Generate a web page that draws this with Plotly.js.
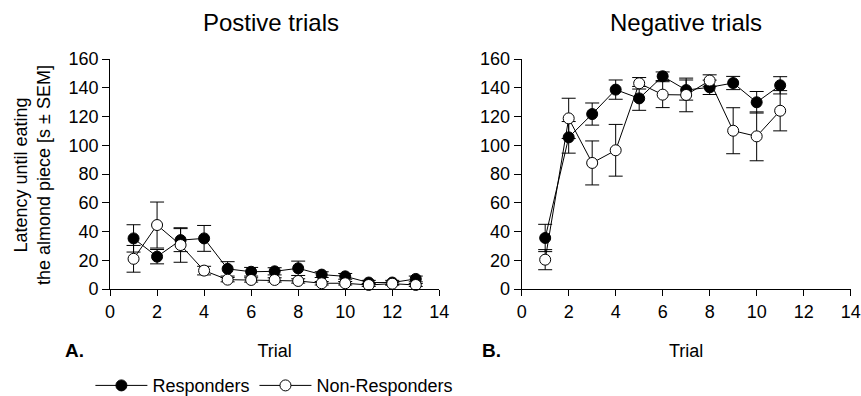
<!DOCTYPE html>
<html>
<head>
<meta charset="utf-8">
<script src="https://cdn.plot.ly/plotly-3.0.1.min.js"></script>
<style>
  html, body { margin: 0; padding: 0; background: #fff; }
  #chart { width: 861px; height: 396px; }
</style>
</head>
<body>
<div id="chart"></div>
<script>
// Latency (s) until eating the almond piece, mean ± SEM per trial

// Panel A: positive trials
const posTrials = [1, 2, 3, 4, 5, 6, 7, 8, 9, 10, 11, 12, 13];
const posRespMean = [35.2, 22.5, 34, 35.2, 14, 12, 12.3, 14.4, 10, 8.8, 4.5, 4.5, 7];
const posRespSem  = [9.5, 5, 8, 9, 5, 3, 2.5, 5, 2, 2, 1.5, 1.5, 2];
const posNonMean  = [21, 44.5, 30.6, 12.8, 6.5, 6.3, 6.3, 5.6, 4, 4, 2.8, 3.7, 2.8];
const posNonSem   = [9.3, 16, 12, 3, 1.5, 1.5, 1.5, 1.5, 1.2, 1.2, 1, 1, 1];

// Panel B: negative trials
const negTrials = [1, 2, 3, 4, 5, 6, 7, 8, 9, 10, 11];
const negRespMean = [35.5, 105.5, 121.7, 138.7, 132.6, 148, 138.4, 140.3, 143.3, 129.9, 141.7];
const negRespSem  = [9.5, 11, 7.7, 6.7, 8.3, 3, 7, 5, 4.6, 7.5, 6];
const negNonMean  = [20.4, 118.7, 87.7, 96.5, 143.1, 135.2, 135, 145, 110.1, 106.2, 124];
const negNonSem   = [7, 14, 15.3, 18, 4, 9, 11.7, 4, 16, 17, 14];

const groupNames = ['Responders', 'Non-Responders'];
const panelTitles = ['Postive trials', 'Negative trials'];
const panelLetters = ['A.', 'B.'];
const xTitle = 'Trial';
const yTitle = 'Latency until eating<br>the almond piece [s ± SEM]';

const FONT = 'Liberation Sans, Arial, sans-serif';

function series(x, y, sem, name, filled, xa, ya, showLeg) {
  return {
    type: 'scatter', mode: 'lines+markers',
    x: x, y: y, name: name,
    xaxis: xa, yaxis: ya,
    showlegend: showLeg, legendgroup: name,
    cliponaxis: false,
    line: { color: '#000', width: 1 },
    marker: {
      size: 11,
      color: filled ? '#000' : '#fff',
      line: { color: '#000', width: 1 }
    },
    error_y: { type: 'data', array: sem, visible: true, color: '#000', thickness: 1, width: 7 }
  };
}

const data = [
  series(posTrials, posRespMean, posRespSem, groupNames[0], true, 'x', 'y', true),
  series(posTrials, posNonMean, posNonSem, groupNames[1], false, 'x', 'y', true),
  series(negTrials, negRespMean, negRespSem, groupNames[0], true, 'x2', 'y2', false),
  series(negTrials, negNonMean, negNonSem, groupNames[1], false, 'x2', 'y2', false)
];

const tickFont = { family: FONT, size: 18, color: '#000' };

function xAxis(domain, anchor) {
  return {
    domain: domain, anchor: anchor,
    range: [0, 14], dtick: 2, tick0: 0,
    showline: true, linecolor: '#000', linewidth: 1,
    ticks: 'outside', ticklen: 6, tickcolor: '#000', tickwidth: 1,
    showgrid: false, zeroline: false,
    tickfont: tickFont,
    title: { text: xTitle, font: { family: FONT, size: 18, color: '#000' }, standoff: 23 }
  };
}

function yAxis(domain, anchor) {
  return {
    domain: domain, anchor: anchor,
    range: [0, 160], dtick: 20, tick0: 0,
    showline: true, linecolor: '#000', linewidth: 1,
    ticks: 'outside', ticklen: 7, tickcolor: '#000', tickwidth: 1,
    showgrid: false, zeroline: false,
    tickfont: tickFont
  };
}

const yDomain = [0.2702, 0.8510];

const layout = {
  width: 861, height: 396,
  margin: { l: 0, r: 0, t: 0, b: 0, autoexpand: false },
  paper_bgcolor: '#fff', plot_bgcolor: '#fff',
  font: { family: FONT, color: '#000' },
  xaxis: xAxis([0.1278, 0.5102], 'y'),
  yaxis: yAxis(yDomain, 'x'),
  xaxis2: xAxis([0.6059, 0.9880], 'y2'),
  yaxis2: yAxis(yDomain, 'x2'),
  showlegend: true,
  legend: {
    orientation: 'h', x: 0.105, y: 0.026, xanchor: 'left', yanchor: 'middle',
    font: { family: FONT, size: 18, color: '#000' },
    bgcolor: 'rgba(0,0,0,0)', itemwidth: 52, tracegroupgap: 0
  },
  annotations: [
    // shared y-axis title for both panels, on the left
    { text: yTitle, xref: 'paper', yref: 'paper', x: 0.0372, y: 0.558,
      xanchor: 'center', yanchor: 'middle', textangle: -90, showarrow: false,
      font: { family: FONT, size: 18, color: '#000' } },
    { text: panelTitles[0], xref: 'paper', yref: 'paper', x: 0.3148, y: 0.942,
      xanchor: 'center', yanchor: 'middle', showarrow: false,
      font: { family: FONT, size: 24, color: '#000' } },
    { text: panelTitles[1], xref: 'paper', yref: 'paper', x: 0.797, y: 0.942,
      xanchor: 'center', yanchor: 'middle', showarrow: false,
      font: { family: FONT, size: 24, color: '#000' } },
    { text: '<b>' + panelLetters[0] + '</b>', xref: 'paper', yref: 'paper', x: 0.086, y: 0.116,
      xanchor: 'center', yanchor: 'middle', showarrow: false,
      font: { family: FONT, size: 19, color: '#000' } },
    { text: '<b>' + panelLetters[1] + '</b>', xref: 'paper', yref: 'paper', x: 0.571, y: 0.116,
      xanchor: 'center', yanchor: 'middle', showarrow: false,
      font: { family: FONT, size: 19, color: '#000' } }
  ]
};

Plotly.newPlot('chart', data, layout, { displayModeBar: false, staticPlot: true });
</script>
</body>
</html>
